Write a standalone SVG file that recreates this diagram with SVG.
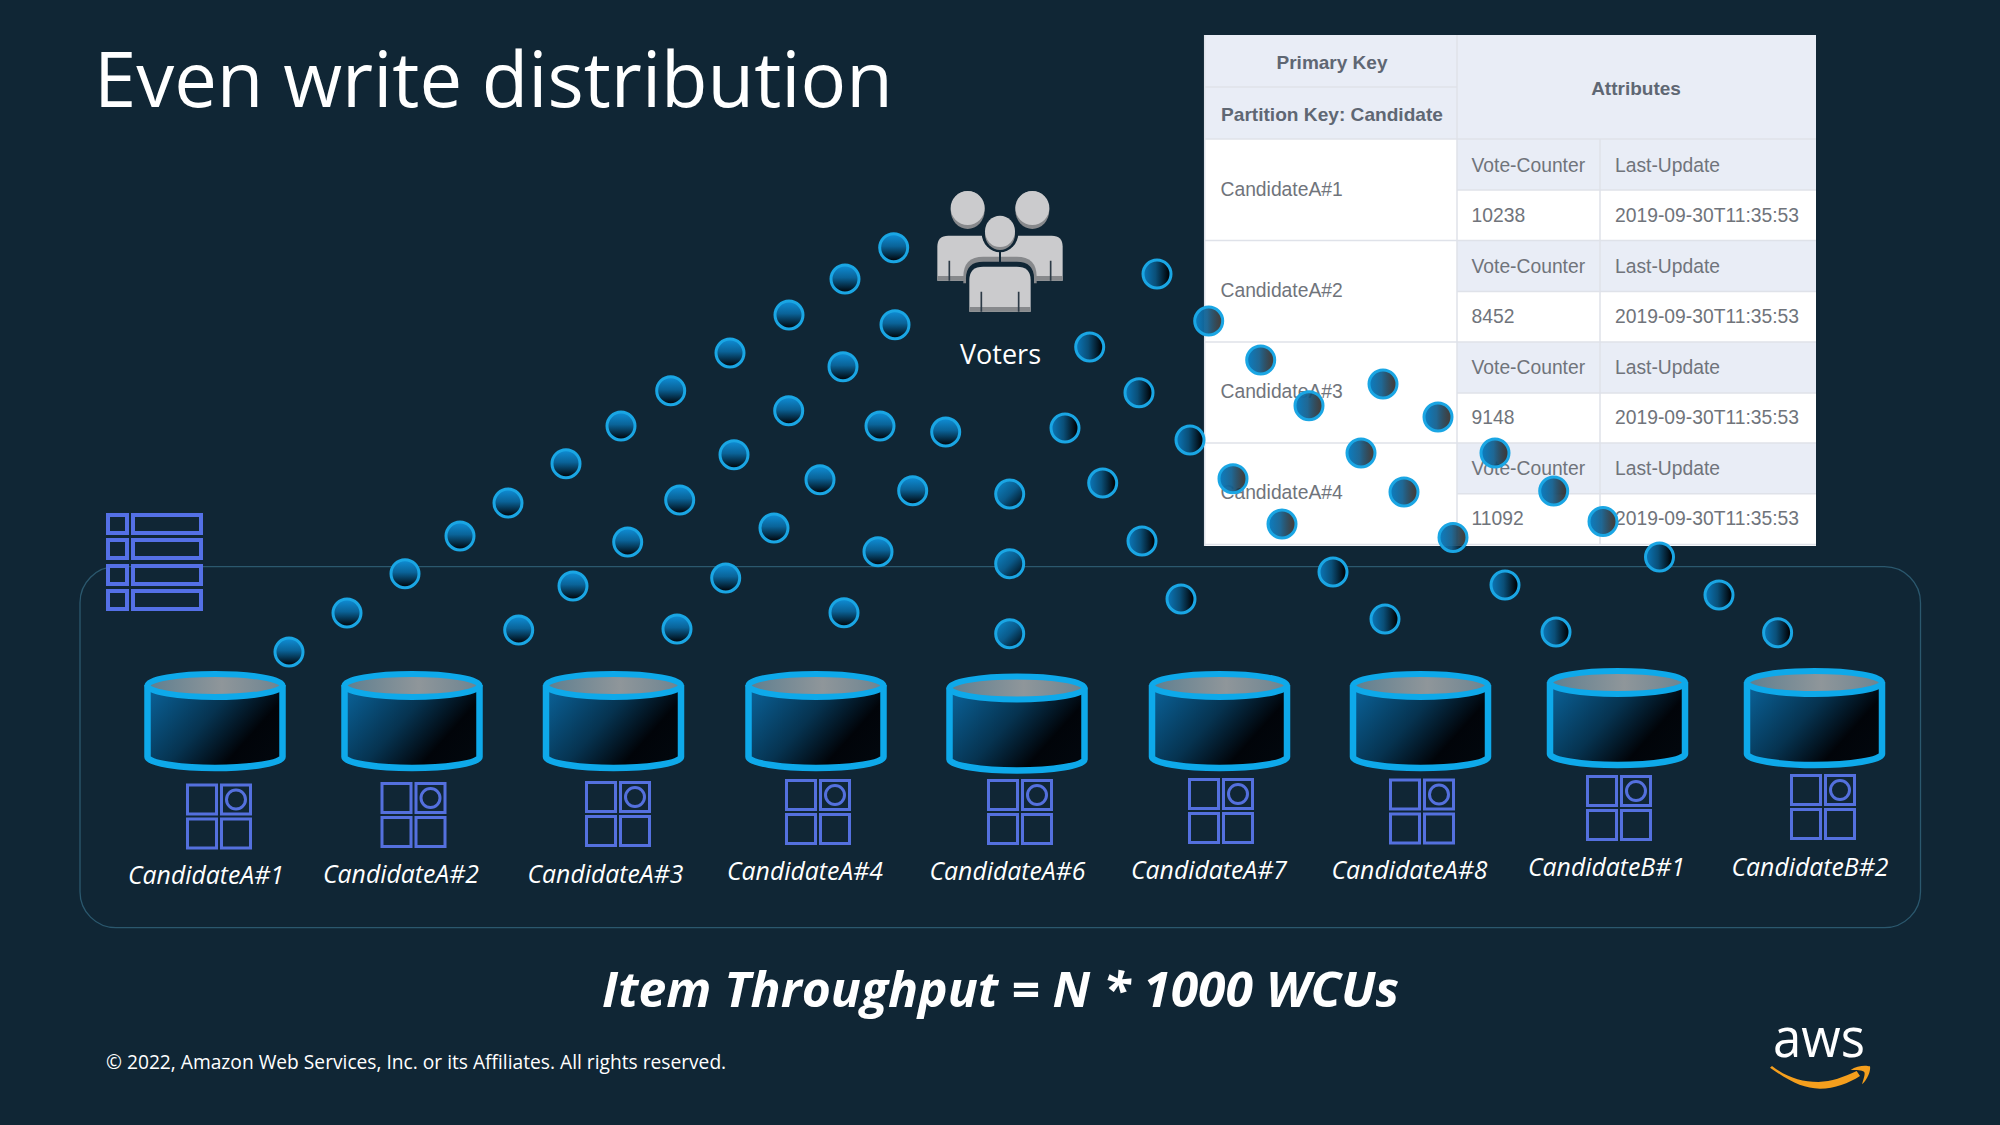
<svg xmlns="http://www.w3.org/2000/svg" width="2000" height="1125" viewBox="0 0 2000 1125">
<defs>
<linearGradient id="gv" x1="0" y1="0" x2="0" y2="1"><stop offset="0" stop-color="#0f8fd8"/><stop offset=".45" stop-color="#0a6398"/><stop offset=".95" stop-color="#01070d"/></linearGradient>
<linearGradient id="gd" x1="0" y1="0" x2="1" y2="1"><stop offset=".05" stop-color="#0d86c8"/><stop offset=".5" stop-color="#0a5a8a"/><stop offset=".95" stop-color="#01060b"/></linearGradient>
<linearGradient id="gh" x1="0" y1="0" x2="1" y2="0"><stop offset="0" stop-color="#0a78bb"/><stop offset=".45" stop-color="#0a4f78"/><stop offset=".9" stop-color="#01060b"/></linearGradient>
<linearGradient id="gt" x1="0" y1="0" x2="1" y2="0"><stop offset="0" stop-color="#0a7fc4"/><stop offset=".45" stop-color="#14608f" stop-opacity=".95"/><stop offset=".9" stop-color="#0a0a0a" stop-opacity=".78"/></linearGradient>
<linearGradient id="cb" x1="0" y1=".15" x2="1" y2=".7"><stop offset="0" stop-color="#0a5f94"/><stop offset=".45" stop-color="#063350"/><stop offset=".78" stop-color="#010409"/><stop offset="1" stop-color="#02070d"/></linearGradient>
<linearGradient id="ct" x1="0" y1="0" x2="1" y2="0"><stop offset="0" stop-color="#5f7f90"/><stop offset=".55" stop-color="#8f969a"/><stop offset="1" stop-color="#6d8491"/></linearGradient>
<g id="cyl">
<path d="M3,14V86C3,92 35,97 70.500,97C106,97 138,92 138,86V14" fill="url(#cb)" stroke="#0ea9ea" stroke-width="6.500" stroke-linejoin="round"/>
<ellipse cx="70.500" cy="14.500" rx="67.500" ry="11.500" fill="url(#ct)" stroke="#0ea9ea" stroke-width="6"/>
</g>
<g id="grid" fill="none" stroke="#5470de" stroke-width="3">
<rect x="1.500" y="1.500" width="29" height="29"/><rect x="35.500" y="1.500" width="29" height="29"/>
<rect x="1.500" y="35.500" width="29" height="29"/><rect x="35.500" y="35.500" width="29" height="29"/>
<circle cx="50" cy="16" r="9.500"/>
</g>
</defs>
<style>
text{font-family:"Open Sans","Noto Sans",sans-serif}
.lbl{font-size:24.800px;font-style:italic;fill:#fff}
.t{font-family:"Liberation Sans",Arial,sans-serif;font-size:19.300px;fill:#70747b}
.h{font-family:"Liberation Sans",Arial,sans-serif;font-size:19px;font-weight:700;fill:#5f6773}
.hd{fill:#e9edf6}
.ln{stroke:#dfe2e9;stroke-width:1.500;fill:none}
.d{stroke:#1aa6e4;stroke-width:3}
.v{fill:url(#gv)}.k{fill:url(#gd)}.r{fill:url(#gh)}.w{fill:url(#gt)}
</style>
<rect width="2000" height="1125" fill="#102635"/>
<text id="title" x="94" y="107" font-size="76" fill="#fff">Even write distribution</text>
<rect id="container" x="80" y="566.700" width="1840.500" height="361" rx="36" fill="none" stroke="#2b586e" stroke-width="1.300"/>
<g id="table-icon" fill="#102635" stroke="#5470e6" stroke-width="4">
<rect x="108" y="515" width="19" height="18"/><rect x="133" y="515" width="68" height="18"/>
<rect x="108" y="540" width="19" height="18"/><rect x="133" y="540" width="68" height="18"/>
<rect x="108" y="566" width="19" height="18"/><rect x="133" y="566" width="68" height="18"/>
<rect x="108" y="591" width="19" height="18"/><rect x="133" y="591" width="68" height="18"/>
</g>
<g id="voters">
<g transform="translate(900 170) scale(.33333)">
<ellipse cx="203" cy="120" rx="51" ry="57" fill="#87898c"/><ellipse cx="397" cy="120" rx="51" ry="57" fill="#87898c"/>
<ellipse cx="203" cy="114" rx="51" ry="51" fill="#cbcbcd"/><ellipse cx="397" cy="114" rx="51" ry="51" fill="#cbcbcd"/>
<path d="M112,332V230Q112,197 145,197H455Q488,197 488,230V332Z" fill="#cbcbcd"/>
<rect x="112" y="318" width="376" height="14" fill="#87898c"/>
<path d="M190,340V320Q190,260 250,260H350Q410,260 410,320V340Z" fill="#87898c"/>
<path d="M198,350V325Q198,275 250,275H350Q402,275 402,325V350Z" fill="#102635"/>
<ellipse cx="300" cy="188" rx="55" ry="59" fill="#102635"/>
<rect x="297" y="240" width="6" height="36" fill="#102635"/>
<ellipse cx="300" cy="192" rx="45" ry="48" fill="#87898c"/>
<ellipse cx="300" cy="184" rx="45" ry="47" fill="#cbcbcd"/>
<path d="M208,425V330Q208,290 250,290H350Q392,290 392,330V425Z" fill="#cbcbcd"/>
<rect x="208" y="411" width="184" height="14" fill="#87898c"/>
<path d="M148,272V332M452,272V332M244,365V425M356,365V425" stroke="#2c3a46" stroke-width="5" fill="none"/>
</g>
<text x="1000.500" y="363.500" font-size="27" fill="#fff" text-anchor="middle">Voters</text>
</g>
<g id="dynamo-table">
<rect x="1204" y="35" width="612" height="511" fill="#fff"/>
<rect class="hd" x="1204" y="35" width="612" height="104"/>
<rect class="hd" x="1457" y="139" width="359" height="51"/><rect class="hd" x="1457" y="240.500" width="359" height="51"/>
<rect class="hd" x="1457" y="342" width="359" height="51"/><rect class="hd" x="1457" y="443" width="359" height="51"/>
<path class="ln" d="M1204.700,35V546M1204,87H1457M1204,139H1816M1457,190H1816M1204,240.500H1816M1457,291.500H1816M1204,342H1816M1457,393H1816M1204,443H1816M1457,493.700H1816M1204,544.500H1816M1457,35V545M1600,139V545"/>
<text class="h" x="1332" y="69" text-anchor="middle">Primary Key</text>
<text class="h" x="1221" y="121" textLength="222" lengthAdjust="spacingAndGlyphs">Partition Key: Candidate</text>
<text class="h" x="1636" y="95" text-anchor="middle">Attributes</text>
<text class="t" x="1220.500" y="196">CandidateA#1</text><text class="t" x="1220.500" y="297">CandidateA#2</text>
<text class="t" x="1220.500" y="398">CandidateA#3</text><text class="t" x="1220.500" y="499">CandidateA#4</text>
<text class="t" x="1471.500" y="171.500">Vote-Counter</text><text class="t" x="1615" y="171.500">Last-Update</text>
<text class="t" x="1471.500" y="222">10238</text><text class="t" x="1615" y="222">2019-09-30T11:35:53</text>
<text class="t" x="1471.500" y="272.500">Vote-Counter</text><text class="t" x="1615" y="272.500">Last-Update</text>
<text class="t" x="1471.500" y="323">8452</text><text class="t" x="1615" y="323">2019-09-30T11:35:53</text>
<text class="t" x="1471.500" y="373.500">Vote-Counter</text><text class="t" x="1615" y="373.500">Last-Update</text>
<text class="t" x="1471.500" y="424">9148</text><text class="t" x="1615" y="424">2019-09-30T11:35:53</text>
<text class="t" x="1471.500" y="474.500">Vote-Counter</text><text class="t" x="1615" y="474.500">Last-Update</text>
<text class="t" x="1471.500" y="525">11092</text><text class="t" x="1615" y="525">2019-09-30T11:35:53</text>
</g>
<g id="node-a1"><use href="#cyl" x="144.500" y="671"/><use href="#grid" x="186" y="783.500"/><text class="lbl" x="128" y="883.500">CandidateA#1</text></g>
<g id="node-a2"><use href="#cyl" x="341.500" y="671"/><use href="#grid" x="380.500" y="782"/><text class="lbl" x="323" y="883">CandidateA#2</text></g>
<g id="node-a3"><use href="#cyl" x="543" y="671"/><use href="#grid" x="585" y="781"/><text class="lbl" x="527.500" y="883">CandidateA#3</text></g>
<g id="node-a4"><use href="#cyl" x="745.500" y="671"/><use href="#grid" x="785" y="779"/><text class="lbl" x="727" y="880">CandidateA#4</text></g>
<g id="node-a6"><use href="#cyl" x="946.500" y="673.500"/><use href="#grid" x="987" y="779"/><text class="lbl" x="929.500" y="880">CandidateA#6</text></g>
<g id="node-a7"><use href="#cyl" x="1149" y="671"/><use href="#grid" x="1188" y="778"/><text class="lbl" x="1131" y="879">CandidateA#7</text></g>
<g id="node-a8"><use href="#cyl" x="1350" y="671"/><use href="#grid" x="1389" y="778.500"/><text class="lbl" x="1331.500" y="879">CandidateA#8</text></g>
<g id="node-b1"><use href="#cyl" x="1547" y="668"/><use href="#grid" x="1586" y="775"/><text class="lbl" x="1528" y="876">CandidateB#1</text></g>
<g id="node-b2"><use href="#cyl" x="1744" y="668"/><use href="#grid" x="1790" y="774"/><text class="lbl" x="1731.500" y="875.500">CandidateB#2</text></g>
<g id="connectors" class="d">
<g class="v">
<circle cx="289" cy="652" r="14"/><circle cx="347" cy="613" r="14"/><circle cx="405" cy="573.700" r="14"/><circle cx="460" cy="536" r="14"/><circle cx="508" cy="503" r="14"/><circle cx="566" cy="463.700" r="14"/><circle cx="621" cy="426" r="14"/><circle cx="670.700" cy="390.700" r="14"/><circle cx="730" cy="353" r="14"/><circle cx="789" cy="315" r="14"/><circle cx="845" cy="279" r="14"/><circle cx="893.700" cy="247.700" r="14"/>
<circle cx="518.700" cy="630" r="14"/><circle cx="573" cy="586" r="14"/><circle cx="627.700" cy="542" r="14"/><circle cx="679.700" cy="500" r="14"/><circle cx="734" cy="454.700" r="14"/><circle cx="788.700" cy="410.700" r="14"/><circle cx="843" cy="366.700" r="14"/><circle cx="895" cy="324.700" r="14"/>
<circle cx="677" cy="629" r="14"/><circle cx="725.700" cy="578" r="14"/><circle cx="774" cy="528" r="14"/><circle cx="820" cy="479.700" r="14"/><circle cx="880" cy="426" r="14"/>
<circle cx="844" cy="612.700" r="14"/><circle cx="878" cy="551.700" r="14"/><circle cx="912.700" cy="490.700" r="14"/><circle cx="945.700" cy="432" r="14"/>
</g>
<g class="k">
<circle cx="1009.700" cy="633.700" r="14"/><circle cx="1009.700" cy="563.700" r="14"/><circle cx="1009.700" cy="494" r="14"/>
</g>
<g class="r">
<circle cx="1065" cy="428" r="14"/><circle cx="1181" cy="599" r="14"/><circle cx="1142" cy="541" r="14"/><circle cx="1102.700" cy="483" r="14"/>
<circle cx="1190" cy="440" r="14"/><circle cx="1139" cy="392.700" r="14"/><circle cx="1089.700" cy="347" r="14"/><circle cx="1157" cy="274" r="14"/>
<circle cx="1385" cy="619" r="14"/><circle cx="1333" cy="572" r="14"/>
<circle cx="1556" cy="632" r="14"/><circle cx="1505" cy="585" r="14"/>
<circle cx="1777.600" cy="632.700" r="14"/><circle cx="1719" cy="595" r="14"/><circle cx="1659.500" cy="557" r="14"/>
</g>
<g class="w">
<circle cx="1208.700" cy="321" r="14"/><circle cx="1260.700" cy="360" r="14"/><circle cx="1309" cy="405.700" r="14"/><circle cx="1361" cy="453" r="14"/><circle cx="1404" cy="492" r="14"/><circle cx="1453" cy="537.500" r="14"/>
<circle cx="1233" cy="478.700" r="14"/><circle cx="1282" cy="524" r="14"/>
<circle cx="1383" cy="384" r="14"/><circle cx="1438" cy="417" r="14"/><circle cx="1495" cy="453" r="14"/><circle cx="1553.700" cy="491" r="14"/><circle cx="1603" cy="521.500" r="14"/>
</g>
</g>
<text id="formula" x="602" y="1007" font-size="48" font-weight="700" font-style="italic" fill="#fff" textLength="797" lengthAdjust="spacingAndGlyphs">Item Throughput = N * 1000 WCUs</text>
<text id="footer" x="106" y="1068.500" font-size="19.200" fill="#fff">© 2022, Amazon Web Services, Inc. or its Affiliates. All rights reserved.</text>
<g id="aws-logo">
<text x="1773" y="1057" font-size="54" font-weight="500" fill="#fff" textLength="92" lengthAdjust="spacingAndGlyphs">aws</text>
<g transform="translate(1740 1000) scale(.33333)" fill="#f59f1d">
<path d="M90,203C150,245 190,266 240,266C285,266 325,250 360,228L350,213C310,232 275,244 235,246C185,246 140,232 96,198Z"/>
<path d="M332,210C350,196 378,195 390,199C393,212 382,240 366,253C371,235 377,220 372,215C366,210 350,211 332,210Z"/>
</g>
</g>
</svg>
